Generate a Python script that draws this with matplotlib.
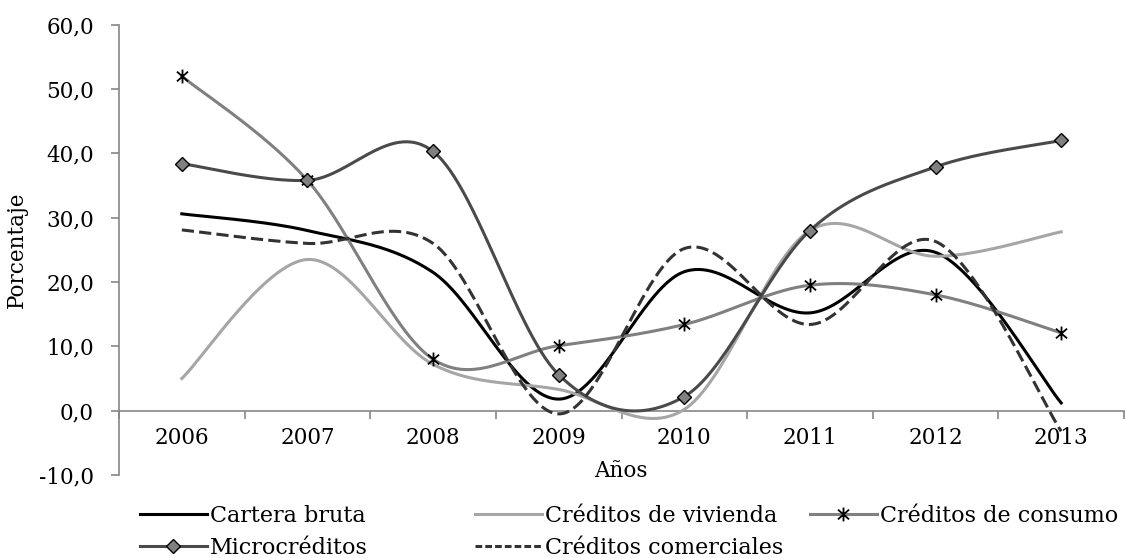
import numpy as np
import matplotlib
matplotlib.use('Agg')
import matplotlib.pyplot as plt
from matplotlib.path import Path
from matplotlib.ticker import FixedLocator, FuncFormatter

plt.rcParams['font.family'] = ['DejaVu Serif']

years = ['2006', '2007', '2008', '2009', '2010', '2011', '2012', '2013']
cartera_bruta = [30.6, 28.0, 21.5, 1.8, 21.6, 15.2, 24.6, 1.2]
creditos_vivienda = [5.0, 23.5, 7.2, 3.3, 0.2, 28.0, 24.0, 27.8]
creditos_consumo = [52.0, 35.8, 8.0, 10.1, 13.4, 19.5, 18.0, 12.1]
microcreditos = [38.4, 35.8, 40.3, 5.6, 2.2, 28.0, 37.9, 42.0]
creditos_comerciales = [28.1, 26.0, 26.0, -0.5, 25.2, 13.4, 26.3, -3.2]


def smooth(xs, ys, n=60):
    # excel-like smoothed line (catmull-rom bezier)
    P = np.column_stack([xs, ys]).astype(float)
    m = len(P)
    out = []
    t = np.linspace(0, 1, n)[:, None]
    for i in range(m - 1):
        p0 = P[max(i - 1, 0)]
        p1 = P[i]
        p2 = P[i + 1]
        p3 = P[min(i + 2, m - 1)]
        c1 = p1 + (p2 - p0) / 6.0
        c2 = p2 - (p3 - p1) / 6.0
        seg = (1 - t)**3 * p1 + 3 * (1 - t)**2 * t * c1 + 3 * (1 - t) * t**2 * c2 + t**3 * p2
        out.append(seg if i == 0 else seg[1:])
    out = np.vstack(out)
    return out[:, 0], out[:, 1]


# asterisk marker like the excel one
star = Path([(0, -1), (0, 1), (-0.8, -0.7), (0.8, 0.7), (-0.8, 0.7), (0.8, -0.7)],
            [Path.MOVETO, Path.LINETO, Path.MOVETO, Path.LINETO, Path.MOVETO, Path.LINETO])

fig = plt.figure(figsize=(11.26, 5.58), dpi=100)
W, H = 1126, 558
ax = fig.add_axes([119 / W, 1 - 475 / H, (1124 - 119) / W, (475 - 24.7) / H])

x = np.arange(len(years))
lw = 2.2

series = [
    ('Cartera bruta', cartera_bruta, dict(color='black', ls='-')),
    ('Créditos de vivienda', creditos_vivienda, dict(color='#a6a6a6', ls='-')),
    ('Créditos de consumo', creditos_consumo, dict(color='#808080', ls='-')),
    ('Microcréditos', microcreditos, dict(color='#4a4a4a', ls='-')),
    ('Créditos comerciales', creditos_comerciales, dict(color='#333333', ls=(0, (4, 1.7)))),
]

handles = {}
for name, vals, st in series:
    sx, sy = smooth(x, vals)
    line, = ax.plot(sx, sy, color=st['color'], ls=st['ls'], lw=lw, zorder=3)
    handles[name] = line

# markers
ax.plot(x, creditos_consumo, ls='none', marker=star, markersize=10,
        markeredgecolor='black', markerfacecolor='none', markeredgewidth=1.3, zorder=5)
ax.plot(x, microcreditos, ls='none', marker='D', markersize=7.5,
        markerfacecolor='#808080', markeredgecolor='black', markeredgewidth=1.0, zorder=6)

# legend handles with markers
h_consumo, = ax.plot([], [], color='#808080', lw=lw, marker=star, markersize=10,
                     markeredgecolor='black', markerfacecolor='none', markeredgewidth=1.3)
h_micro, = ax.plot([], [], color='#4a4a4a', lw=lw, marker='D', markersize=7.5,
                   markerfacecolor='#808080', markeredgecolor='black', markeredgewidth=1.0)
h_com, = ax.plot([], [], color='#333333', lw=lw, ls=(0, (2.2, 1.0)))

ax.set_xlim(-0.5, 7.5)
ax.set_ylim(-10, 60)

for s in ['top', 'right']:
    ax.spines[s].set_visible(False)
ax.spines['bottom'].set_position(('data', 0))
for s in ['left', 'bottom']:
    ax.spines[s].set_color('#868686')
    ax.spines[s].set_linewidth(1.2)

ax.xaxis.set_major_locator(FixedLocator(x))
ax.set_xticklabels(years)
ax.xaxis.set_minor_locator(FixedLocator(np.arange(-0.5, 8, 1.0)))
ax.tick_params(axis='x', which='major', length=0, pad=12, labelsize=15.5)
ax.tick_params(axis='x', which='minor', length=6, width=1.2, color='#868686', direction='out')

ax.set_yticks(np.arange(-10, 61, 10))
ax.yaxis.set_major_formatter(FuncFormatter(lambda v, p: f'{v:.1f}'.replace('.', ',')))
ax.tick_params(axis='y', length=6, width=1.2, color='#868686', pad=12, labelsize=15.5)

fig.text(621 / W, 1 - 471 / H, 'Años', ha='center', va='center', fontsize=15.5)
fig.text(17 / W, 1 - 250 / H, 'Porcentaje', ha='center', va='center', rotation=90, fontsize=15.5)

cols = [
    (140, [handles['Cartera bruta'], h_micro], ['Cartera bruta', 'Microcréditos']),
    (475, [handles['Créditos de vivienda'], h_com], ['Créditos de vivienda', 'Créditos comerciales']),
    (810, [h_consumo], ['Créditos de consumo']),
]
for px, hs, ls in cols:
    leg = fig.legend(hs, ls, loc='upper left', bbox_to_anchor=(px / W, 1 - 505 / H),
                     frameon=False, fontsize=16, handlelength=3.0, handletextpad=0.15,
                     borderpad=0, borderaxespad=0, labelspacing=0.43)

fig.savefig('out.png', dpi=100)
